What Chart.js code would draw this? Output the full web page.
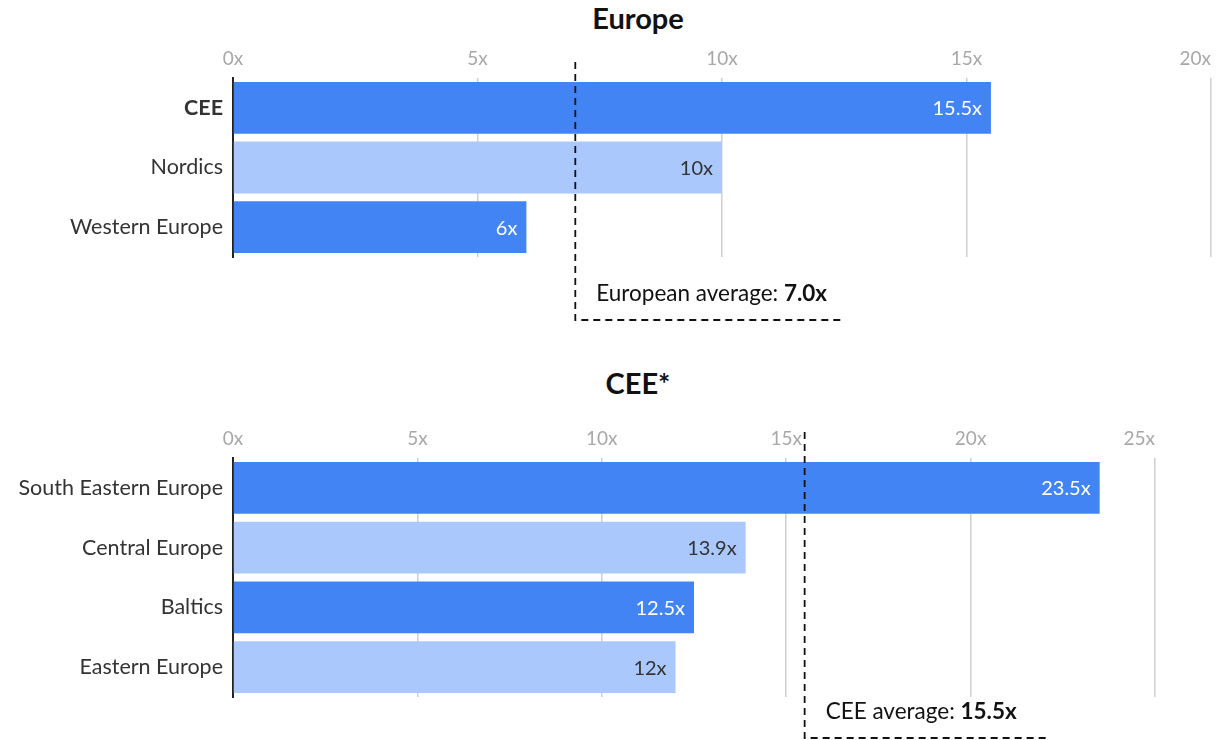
<!DOCTYPE html>
<html>
<head>
<meta charset="utf-8">
<script src="https://cdn.jsdelivr.net/npm/chart.js@4/dist/chart.umd.min.js"></script>
<style>
  body { margin: 0; background: #fff; }
  #page { position: relative; width: 1228px; height: 740px; overflow: hidden; }
  h2 { position: absolute; left: 24px; width: 1228px; margin: 0; text-align: center;
       font: bold 29px Lato, sans-serif; line-height: 36px; color: #111; }
  canvas { position: absolute; left: 0; }
</style>
</head>
<body>
<div id="page">
  <h2 style="top:0">Europe</h2>
  <canvas id="europe" width="1228" height="300" style="top:40px"></canvas>
  <h2 style="top:365px">CEE*</h2>
  <canvas id="cee" width="1228" height="320" style="top:420px"></canvas>
</div>
<script>
// Europe overview
const europeLabels = ["CEE", "Nordics", "Western Europe"];
const europeValues = [15.5, 10, 6];
const europeAverage = 7.0;
const europeTicks = ["0x", "5x", "10x", "15x", "20x"];

// CEE breakdown
const ceeLabels = ["South Eastern Europe", "Central Europe", "Baltics", "Eastern Europe"];
const ceeValues = [23.5, 13.9, 12.5, 12];
const ceeAverage = 15.5;
const ceeTicks = ["0x", "5x", "10x", "15x", "20x", "25x"];

const DARK = "#4384f5";
const LIGHT = "#aac8fc";
const FONT = "Lato, sans-serif";

// value labels, top tick labels and the dashed average marker
const markers = {
  id: "markers",
  afterDraw(chart, args, opts) {
    const { ctx, chartArea, scales: { x } } = chart;
    const values = chart.data.datasets[0].data;
    ctx.save();

    ctx.textBaseline = "middle";
    ctx.font = "20px " + FONT;
    ctx.textAlign = "right";
    chart.getDatasetMeta(0).data.forEach((bar, i) => {
      ctx.fillStyle = i % 2 ? "#333" : "#fff";
      ctx.fillText(values[i] + "x", bar.x - 9, bar.y + 1);
    });

    ctx.fillStyle = "#a8a8a8";
    ctx.font = "19px " + FONT;
    x.ticks.forEach((t, i) => {
      const last = i === x.ticks.length - 1;
      ctx.textAlign = last ? "right" : "center";
      ctx.fillText(opts.ticks[i], x.getPixelForValue(t.value), chartArea.top - 19);
    });

    const ax = x.getPixelForValue(opts.average);
    const yLine = chartArea.bottom + opts.drop;
    const textX = ax + 21;
    const textY = yLine - 26;
    ctx.textAlign = "left";
    ctx.fillStyle = "#111";
    ctx.font = "22.5px " + FONT;
    const prefix = opts.text + ": ";
    ctx.fillText(prefix, textX, textY);
    const w1 = ctx.measureText(prefix).width;
    ctx.font = "bold 22.5px " + FONT;
    const val = opts.average.toFixed(1) + "x";
    ctx.fillText(val, textX + w1, textY);
    const w2 = ctx.measureText(val).width;

    ctx.strokeStyle = "#111";
    ctx.lineWidth = 1.8;
    ctx.setLineDash([7, 5]);
    ctx.beginPath();
    ctx.moveTo(ax, chartArea.top - opts.rise);
    ctx.lineTo(ax, yLine);
    ctx.lineTo(textX + w1 + w2 + opts.tail, yLine);
    ctx.stroke();
    ctx.restore();
  }
};

function barChart(id, labels, values, max, ticks, average, text, layout) {
  return new Chart(document.getElementById(id), {
    type: "bar",
    data: {
      labels: labels,
      datasets: [{
        data: values,
        backgroundColor: values.map((v, i) => (i % 2 ? LIGHT : DARK)),
        borderWidth: 0,
        barPercentage: 0.87,
        categoryPercentage: 1
      }]
    },
    options: {
      indexAxis: "y",
      responsive: false,
      animation: false,
      layout: { padding: layout.padding },
      plugins: {
        legend: { display: false },
        tooltip: { enabled: false },
        markers: { ticks: ticks, average: average, text: text,
                   rise: layout.rise, drop: layout.drop, tail: layout.tail }
      },
      scales: {
        x: {
          position: "top",
          min: 0,
          max: max,
          ticks: { display: false, stepSize: 5 },
          grid: { color: "#cfcfcf", lineWidth: 1.5, drawTicks: false },
          border: { display: false },
          afterFit(scale) { scale.height = 38; }
        },
        y: {
          grid: { display: false, drawTicks: false },
          border: { color: "#222", width: 2 },
          ticks: {
            color: "#333",
            padding: 10,
            font: (c) => ({ family: FONT, size: 21.5,
                            weight: layout.boldFirst && c.index === 0 ? "bold" : "normal" })
          },
          afterFit(scale) { scale.width = 233; }
        }
      }
    },
    plugins: [markers]
  });
}

barChart("europe", europeLabels, europeValues, 20, europeTicks, europeAverage,
  "European average",
  { padding: { top: 0, bottom: 83, left: 0, right: 17 }, rise: 16, drop: 63, tail: 18, boldFirst: true });

barChart("cee", ceeLabels, ceeValues, 25, ceeTicks, ceeAverage,
  "CEE average",
  { padding: { top: 0, bottom: 43, left: 0, right: 73 }, rise: 26, drop: 41, tail: 32, boldFirst: false });
</script>
</body>
</html>
